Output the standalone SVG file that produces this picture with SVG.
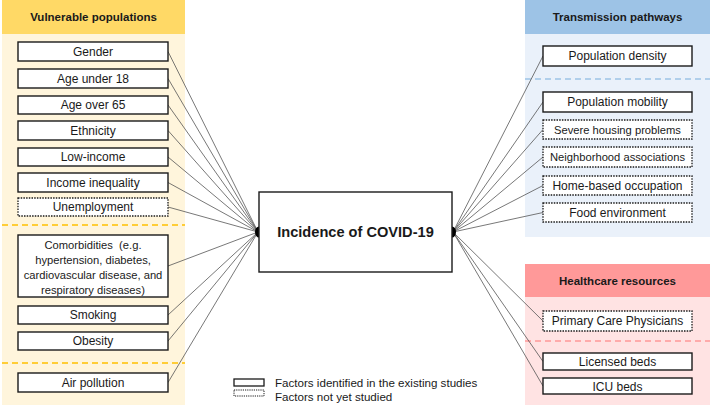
<svg xmlns="http://www.w3.org/2000/svg" width="711" height="408" viewBox="0 0 711 408">
<style>
text{font-family:"Liberation Sans",Arial,sans-serif;fill:#1a1a1a}
.t{font-size:12px;text-anchor:middle}
.n{font-size:11.2px}
.h{font-size:11.5px;font-weight:bold;text-anchor:middle}
.s{fill:#fff;stroke:#1a1a1a;stroke-width:1.4}
.d{fill:#fff;stroke:#1a1a1a;stroke-width:1.3;stroke-dasharray:1.5 1.2}
.c line{stroke:#555;stroke-width:0.8}
</style>
<g id="panels">
<rect x="2" y="0" width="183" height="405" fill="#FFF5DC"/>
<rect x="2" y="0" width="183" height="34" fill="#FFD966"/>
<line x1="2" y1="225" x2="185" y2="225" stroke="#FFC000" stroke-width="1.3" stroke-dasharray="6 4"/>
<line x1="2" y1="363" x2="185" y2="363" stroke="#FFC000" stroke-width="1.3" stroke-dasharray="6 4"/>
<rect x="525" y="0" width="185" height="237" fill="#EAF1FA"/>
<rect x="525" y="0" width="185" height="34" fill="#9DC3E6"/>
<line x1="525" y1="79" x2="710" y2="79" stroke="#9DC3E6" stroke-width="1.3" stroke-dasharray="6 4"/>
<rect x="525" y="264" width="185" height="141" fill="#FFE3E3"/>
<rect x="525" y="264" width="185" height="33" fill="#FF9999"/>
<line x1="525" y1="341" x2="710" y2="341" stroke="#FF9999" stroke-width="1.3" stroke-dasharray="6 4"/>
<text class="h" x="93.5" y="21">Vulnerable populations</text>
<text class="h" x="617.5" y="21">Transmission pathways</text>
<text class="h" x="617.5" y="285">Healthcare resources</text>
</g>
<g id="connectors" class="c">
<line x1="168" y1="51.5" x2="258" y2="232"/>
<line x1="168" y1="78.5" x2="258" y2="232"/>
<line x1="168" y1="105" x2="258" y2="232"/>
<line x1="168" y1="130.5" x2="258" y2="232"/>
<line x1="168" y1="157" x2="258" y2="232"/>
<line x1="168" y1="182.5" x2="258" y2="232"/>
<line x1="168" y1="207" x2="258" y2="232"/>
<line x1="168" y1="266" x2="258" y2="232"/>
<line x1="168" y1="315" x2="258" y2="232"/>
<line x1="168" y1="341" x2="258" y2="232"/>
<line x1="168" y1="382.5" x2="258" y2="232"/>
<line x1="543" y1="56" x2="453" y2="232"/>
<line x1="543" y1="102" x2="453" y2="232"/>
<line x1="543" y1="129.5" x2="453" y2="232"/>
<line x1="543" y1="157" x2="453" y2="232"/>
<line x1="543" y1="185.5" x2="453" y2="232"/>
<line x1="543" y1="212.5" x2="453" y2="232"/>
<line x1="543" y1="321" x2="453" y2="232"/>
<line x1="543" y1="361.5" x2="453" y2="232"/>
<line x1="543" y1="386" x2="453" y2="232"/>
</g>
<g id="center">
<ellipse cx="259" cy="232" rx="4" ry="5.5" fill="#000"/>
<ellipse cx="452" cy="232" rx="4" ry="5.5" fill="#000"/>
<rect class="s" x="259" y="192" width="193" height="80"/>
<text x="355.5" y="237" font-size="14.6" font-weight="bold" text-anchor="middle">Incidence of COVID-19</text>
</g>
<g id="gender"><rect class="s" x="18" y="42" width="150" height="19"/><text class="t" x="93" y="55.5">Gender</text></g>
<g id="age18"><rect class="s" x="18" y="69" width="150" height="19"/><text class="t" x="93" y="82.5">Age under 18</text></g>
<g id="age65"><rect class="s" x="18" y="96" width="150" height="18"/><text class="t" x="93" y="109">Age over 65</text></g>
<g id="ethnicity"><rect class="s" x="18" y="121" width="150" height="19"/><text class="t" x="93" y="134.5">Ethnicity</text></g>
<g id="lowincome"><rect class="s" x="18" y="148" width="150" height="18"/><text class="t" x="93" y="161">Low-income</text></g>
<g id="inequality"><rect class="s" x="18" y="173" width="150" height="19"/><text class="t" x="93" y="186.5">Income inequality</text></g>
<g id="unemployment"><rect class="d" x="18" y="198" width="150" height="18"/><text class="t" x="93" y="211">Unemployment</text></g>
<g id="comorbidities"><rect class="s" x="18" y="235" width="150" height="62"/>
<text class="t n" x="93" y="249">Comorbidities&#160; (e.g.</text>
<text class="t n" x="93" y="264">hypertension, diabetes,</text>
<text class="t n" x="93" y="279">cardiovascular disease, and</text>
<text class="t n" x="93" y="294">respiratory diseases)</text></g>
<g id="smoking"><rect class="s" x="18" y="306" width="150" height="18"/><text class="t" x="93" y="319">Smoking</text></g>
<g id="obesity"><rect class="s" x="18" y="332" width="150" height="18"/><text class="t" x="93" y="345">Obesity</text></g>
<g id="airpollution"><rect class="s" x="18" y="373" width="150" height="19"/><text class="t" x="93" y="386.5">Air pollution</text></g>
<g id="density"><rect class="s" x="543" y="46" width="149" height="20"/><text class="t" x="617.5" y="60">Population density</text></g>
<g id="mobility"><rect class="s" x="543" y="92" width="149" height="20"/><text class="t" x="617.5" y="106">Population mobility</text></g>
<g id="housing"><rect class="d" x="543" y="120" width="149" height="19"/><text class="t n" x="617.5" y="133.5">Severe housing problems</text></g>
<g id="neighborhood"><rect class="d" x="543" y="147" width="149" height="20"/><text class="t n" x="617.5" y="161">Neighborhood associations</text></g>
<g id="homebased"><rect class="d" x="543" y="176" width="149" height="19"/><text class="t" x="617.5" y="189.5">Home-based occupation</text></g>
<g id="food"><rect class="d" x="543" y="203" width="149" height="19"/><text class="t" x="617.5" y="216.5">Food environment</text></g>
<g id="pcp"><rect class="d" x="543" y="311" width="149" height="20"/><text class="t" x="617.5" y="325">Primary Care Physicians</text></g>
<g id="licensed"><rect class="s" x="543" y="353" width="149" height="17"/><text class="t" x="617.5" y="366">Licensed beds</text></g>
<g id="icu"><rect class="s" x="543" y="378" width="149" height="16"/><text class="t" x="617.5" y="390.5">ICU beds</text></g>
<g id="legend">
<rect x="234" y="379" width="30" height="7" fill="#fff" stroke="#1a1a1a" stroke-width="1.3"/>
<rect x="234" y="390" width="30" height="6" fill="#fff" stroke="#1a1a1a" stroke-width="1" stroke-dasharray="1.2 1"/>
<text x="275" y="387" font-size="11.6">Factors identified in the existing studies</text>
<text x="275" y="401" font-size="11.6">Factors not yet studied</text>
</g>
</svg>
